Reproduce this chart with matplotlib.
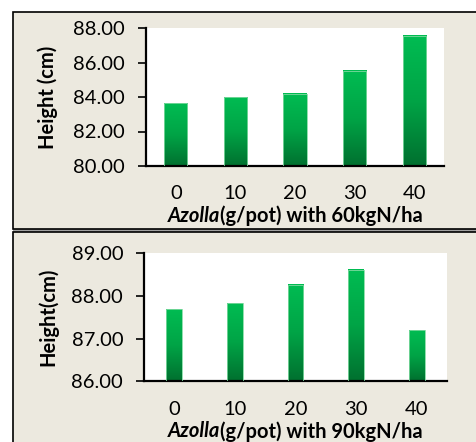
import matplotlib.pyplot as plt
import numpy as np
from matplotlib.patches import Rectangle
from matplotlib.colors import LinearSegmentedColormap

plt.rcParams['font.family'] = ['Lato', 'DejaVu Sans']

doses = ['0', '10', '20', '30', '40']
height_60 = [83.63, 83.98, 84.19, 85.51, 87.55]
height_90 = [87.68, 87.82, 88.25, 88.60, 87.19]
yticks_60 = [80, 82, 84, 86, 88]
yticks_90 = [86, 87, 88, 89]

W, H = 476, 442
bg = '#ECE9DF'
fs = 14.5
green = LinearSegmentedColormap.from_list('g', ['#00702F', '#00A446', '#00BC52'])

fig = plt.figure(figsize=(W / 100, H / 100), dpi=100)
fig.patch.set_facecolor('white')


def fx(x):
    return x / W


def fy(y):
    return 1 - y / H


# panel backgrounds
fig.add_artist(Rectangle((fx(12.5), fy(231.5)), fx(480 - 12.5), fy(228.5) - fy(231.5),
                         transform=fig.transFigure, facecolor='#A0A0A0', edgecolor='none', zorder=0))
fig.add_artist(Rectangle((fx(12.5), fy(228.5)), fx(480 - 12.5), fy(11.5) - fy(228.5),
                         transform=fig.transFigure, facecolor=bg, edgecolor='black', lw=1.2, zorder=0))
fig.add_artist(Rectangle((fx(12.5), fy(460)), fx(480 - 12.5), fy(231.5) - fy(460),
                         transform=fig.transFigure, facecolor=bg, edgecolor='black', lw=1.2, zorder=0))


def panel(rect, vals, yt, ylab, xrest, barw):
    ax = fig.add_axes(rect)
    ax.set_facecolor('white')
    x = np.arange(len(doses))
    bars = ax.bar(x, np.array(vals) - yt[0], bottom=yt[0], width=barw,
                  color='none', edgecolor='#7FD9A0', linewidth=0.6, zorder=3)
    grad = np.linspace(0, 1, 256).reshape(-1, 1)
    for b in bars:
        x0, y0 = b.get_x(), b.get_y()
        ax.imshow(grad, extent=[x0, x0 + b.get_width(), y0, y0 + b.get_height()],
                  origin='lower', aspect='auto', cmap=green, zorder=2)
    ax.set_xlim(-0.5, len(doses) - 0.5)
    ax.set_ylim(yt[0], yt[-1])
    ax.set_yticks(yt)
    ax.set_yticklabels(['%.2f' % v for v in yt])
    ax.set_xticks(x)
    ax.set_xticklabels(doses)
    for s in ['top', 'right']:
        ax.spines[s].set_visible(False)
    ax.spines['left'].set_linewidth(1.6)
    ax.spines['bottom'].set_linewidth(1.6)
    ax.tick_params(axis='y', length=6, width=1.2, pad=9, labelsize=fs)
    ax.tick_params(axis='x', length=0, pad=14, labelsize=fs)
    ax.set_ylabel(ylab, fontsize=fs, fontweight='bold')
    # label centre near x=47 px
    ax.yaxis.set_label_coords((58 - rect[0] * W) / (rect[2] * W), 0.5)

    # x label: italic "Azolla" + regular rest, both bold
    r = fig.canvas.get_renderer()
    t1 = ax.text(0.5, 0, 'Azolla', transform=ax.transAxes, fontsize=fs,
                 fontweight='bold', style='italic', ha='left', va='center')
    t2 = ax.text(0.5, 0, xrest, transform=ax.transAxes, fontsize=fs,
                 fontweight='bold', ha='left', va='center')
    w1 = t1.get_window_extent(r).width
    w2 = t2.get_window_extent(r).width
    axw = rect[2] * W
    ylab_pos = -50.0 / (rect[3] * H)
    start = 0.5 - (w1 + w2) / 2 / axw
    t1.set_position((start, ylab_pos))
    t2.set_position((start + w1 / axw, ylab_pos))
    return ax


panel([fx(146), fy(166), fx(444 - 146), fy(28) - fy(166)], height_60, yticks_60,
      'Height (cm)', '(g/pot) with 60kgN/ha', 0.39)
panel([fx(144), fy(381.3), fx(447 - 144), fy(253) - fy(381.3)], height_90, yticks_90,
      'Height(cm)', '(g/pot) with 90kgN/ha', 0.26)

fig.savefig('out.png', dpi=100, facecolor='white')
